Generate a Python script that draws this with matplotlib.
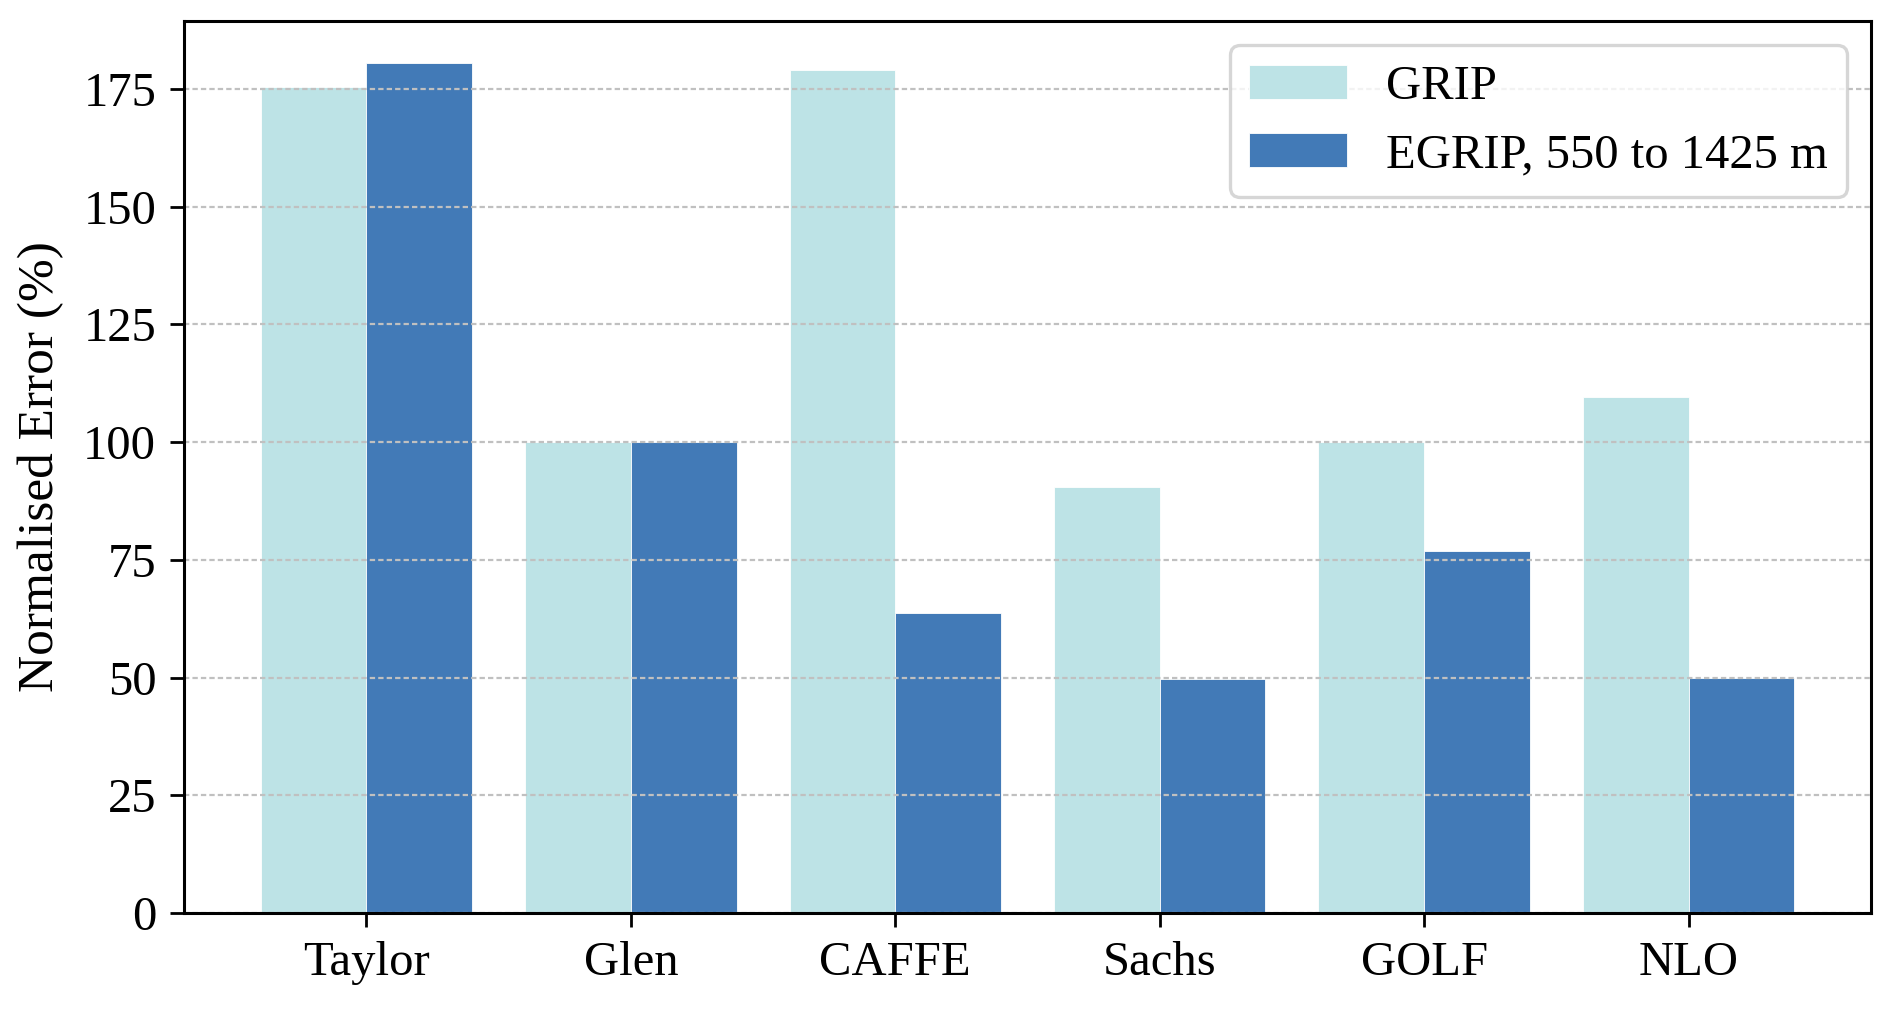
import numpy as np
from matplotlib import pyplot as plt

# Data
models = ["Taylor", "Glen", "CAFFE", "Sachs", "GOLF", "NLO"]
grip_error = [175.5, 100.0, 179.0, 90.5, 100.0, 109.5]
egrip_error = [180.4, 100.0, 63.8, 49.6, 76.8, 49.9]
series_labels = ["GRIP", "EGRIP, 550 to 1425 m"]

light_blue = "#bde3e6"
dark_blue = "#427ab7"

plt.rcParams["font.family"] = ["Liberation Serif", "DejaVu Serif"]
plt.rcParams["font.size"] = 17.5
plt.rcParams["axes.linewidth"] = 1.1

fig = plt.figure(figsize=(9.46, 5.045), dpi=200)
ax = fig.add_axes([184 / 1892, 1 - 913 / 1009, (1871 - 184) / 1892, (913 - 21) / 1009])

x = np.arange(len(models))
width = 0.4

ax.bar(x - width / 2, grip_error, width, color=light_blue, edgecolor="white",
       linewidth=0.3, label=series_labels[0], zorder=1)
ax.bar(x + width / 2, egrip_error, width, color=dark_blue, edgecolor="white",
       linewidth=0.3, label=series_labels[1], zorder=1)

# Gridlines are drawn on top of the bars, spines above the gridlines
ax.set_axisbelow(False)
ax.yaxis.grid(True, linestyle=(0, (2.4, 1.4)), color="#c0c0c0", linewidth=0.8)
for spine in ax.spines.values():
    spine.set_zorder(4)

ax.set_xticks(x)
ax.set_xticklabels(models)
ax.set_yticks(np.arange(0, 176, 25))
ax.tick_params(axis="both", length=5, width=1.0, pad=5)

ax.set_ylabel("Normalised Error (%)", labelpad=7, fontsize=18.5)

leg = ax.legend(loc="upper right", fancybox=True, framealpha=0.8)
leg.get_frame().set_edgecolor("#cccccc")
leg.get_frame().set_linewidth(1.2)
leg.set_zorder(5)

fig.savefig("out.png", dpi=200)
